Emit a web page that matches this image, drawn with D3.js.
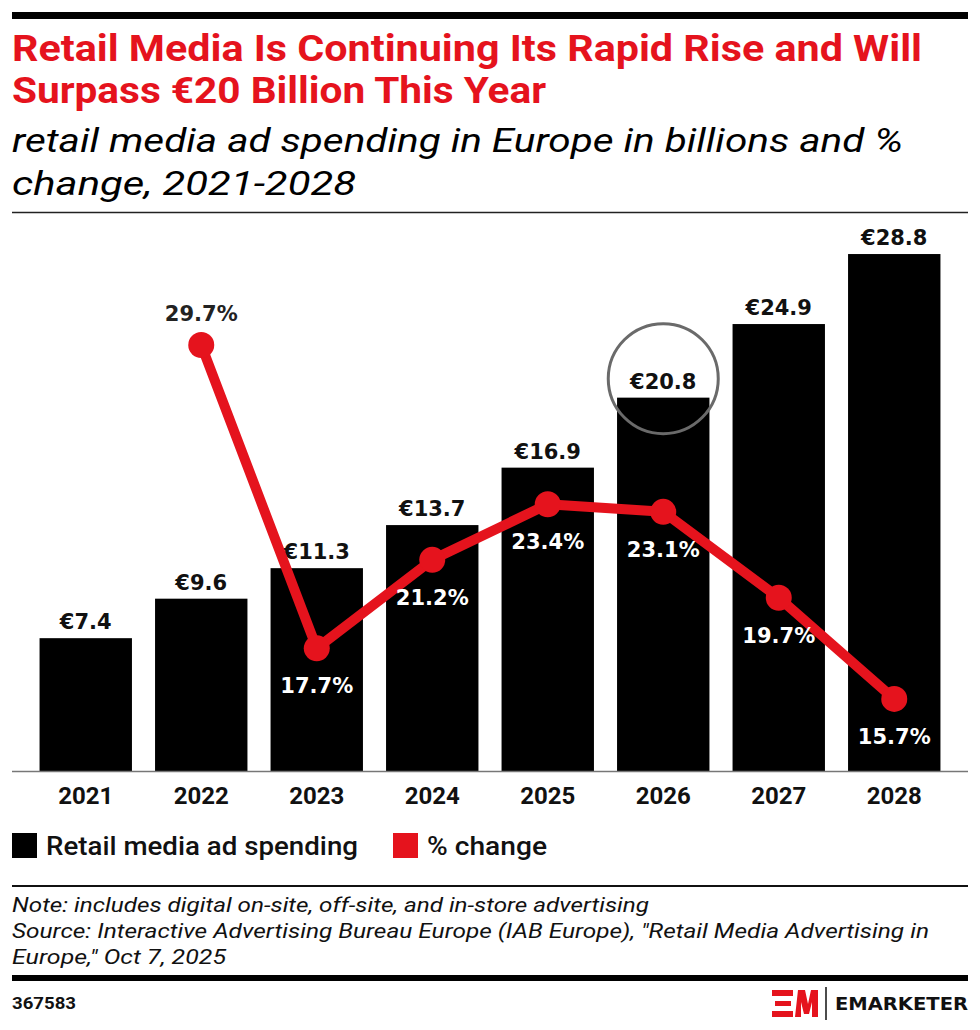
<!DOCTYPE html>
<html>
<head>
<meta charset="utf-8">
<script src="https://cdn.jsdelivr.net/npm/d3@7"></script>
<style>
  html, body { margin: 0; padding: 0; background: #fff; }
  svg { display: block; }
</style>
</head>
<body>
<div id="chart"></div>
<script>
const years = ['2021', '2022', '2023', '2024', '2025', '2026', '2027', '2028'];
const spending = [7.4, 9.6, 11.3, 13.7, 16.9, 20.8, 24.9, 28.8];
const changeYears = ['2022', '2023', '2024', '2025', '2026', '2027', '2028'];
const change = [29.7, 17.7, 21.2, 23.4, 23.1, 19.7, 15.7];
const highlightYear = '2026';

const titleLines = ['Retail Media Is Continuing Its Rapid Rise and Will', 'Surpass €20 Billion This Year'];
const subtitleLines = ['retail media ad spending in Europe in billions and %', 'change, 2021-2028'];
const noteLines = [
  'Note: includes digital on-site, off-site, and in-store advertising',
  'Source: Interactive Advertising Bureau Europe (IAB Europe), "Retail Media Advertising in',
  'Europe," Oct 7, 2025'
];
const chartId = '367583';

const RED = '#e5131d';
const width = 980;
const height = 1030;
const condensed = 'Roboto, "Liberation Sans", sans-serif';
const labelFont = '"DejaVu Sans", sans-serif';

const svg = d3.select('#chart').append('svg')
  .attr('width', width)
  .attr('height', height);

// squeeze a text element to a target width (the original uses a condensed face)
function fit (sel, w) {
  const len = sel.node().getComputedTextLength();
  if (Math.abs(len - w) > 2) {
    sel.attr('textLength', w).attr('lengthAdjust', 'spacingAndGlyphs');
  }
  return sel;
}

// header
svg.append('rect').attr('x', 12).attr('y', 12).attr('width', 956).attr('height', 7).attr('fill', '#000');

const titleWidths = [910, 534];
titleLines.forEach((t, i) => {
  const el = svg.append('text')
    .attr('x', 12).attr('y', 61 + i * 42)
    .attr('font-family', condensed).attr('font-weight', 700)
    .attr('font-size', 36).attr('fill', RED)
    .text(t);
  fit(el, titleWidths[i]);
});

const subWidths = [891, 344];
subtitleLines.forEach((t, i) => {
  const el = svg.append('text')
    .attr('x', 12).attr('y', 152 + i * 43)
    .attr('font-family', condensed).attr('font-style', 'italic').attr('font-weight', 400)
    .attr('font-size', 33).attr('fill', '#000')
    .text(t);
  fit(el, subWidths[i]);
});

svg.append('line').attr('x1', 12).attr('x2', 968).attr('y1', 212.5).attr('y2', 212.5)
  .attr('stroke', '#222').attr('stroke-width', 1.5);

// scales
const x = d3.scaleBand().domain(years).range([28, 952]).paddingInner(0.2).paddingOuter(0.1);
const yBar = d3.scaleLinear().domain([0, 30]).range([771, 232.5]);
const yPct = d3.scaleLinear().domain([10, 35]).range([843, 211]);

const plot = svg.append('g').attr('class', 'plot');

// bars
const bars = plot.selectAll('g.bar')
  .data(years.map((y, i) => ({ year: y, value: spending[i] })))
  .enter().append('g')
  .attr('class', 'bar');

bars.append('rect')
  .attr('x', d => x(d.year))
  .attr('y', d => yBar(d.value))
  .attr('width', x.bandwidth())
  .attr('height', d => yBar(0) - yBar(d.value))
  .attr('fill', '#000');

bars.append('text')
  .attr('x', d => x(d.year) + x.bandwidth() / 2)
  .attr('y', d => yBar(d.value) - 9)
  .attr('text-anchor', 'middle')
  .attr('font-family', labelFont).attr('font-weight', 700).attr('font-size', 21)
  .attr('fill', '#111')
  .text(d => `€${d.value.toFixed(1)}`);

// highlight ring
const hi = spending[years.indexOf(highlightYear)];
plot.append('circle')
  .attr('cx', x(highlightYear) + x.bandwidth() / 2)
  .attr('cy', yBar(hi) - 19)
  .attr('r', 55)
  .attr('fill', 'none')
  .attr('stroke', '#6a6a6a')
  .attr('stroke-width', 3);

// baseline + x axis
plot.append('line').attr('x1', 12).attr('x2', 968).attr('y1', 771.5).attr('y2', 771.5)
  .attr('stroke', '#777').attr('stroke-width', 1.5);

const xAxis = plot.append('g')
  .attr('class', 'x axis')
  .attr('transform', 'translate(0, 771)')
  .call(d3.axisBottom(x).tickSize(0));
xAxis.select('.domain').remove();
xAxis.selectAll('text')
  .attr('y', 33).attr('dy', 0)
  .attr('font-family', condensed).attr('font-weight', 700).attr('font-size', 24)
  .attr('fill', '#111')
  .each(function () { fit(d3.select(this), 55); });

// % change line
const pts = changeYears.map((y, i) => ({ year: y, value: change[i] }));
const cx = d => x(d.year) + x.bandwidth() / 2;

plot.append('path')
  .datum(pts)
  .attr('d', d3.line().x(cx).y(d => yPct(d.value)))
  .attr('fill', 'none')
  .attr('stroke', RED)
  .attr('stroke-width', 10)
  .attr('stroke-linejoin', 'round');

plot.selectAll('circle.dot')
  .data(pts)
  .enter().append('circle')
  .attr('class', 'dot')
  .attr('cx', cx)
  .attr('cy', d => yPct(d.value))
  .attr('r', 13)
  .attr('fill', RED);

plot.selectAll('text.pct')
  .data(pts)
  .enter().append('text')
  .attr('class', 'pct')
  .attr('x', cx)
  .attr('y', (d, i) => i === 0 ? yPct(d.value) - 24 : yPct(d.value) + 45)
  .attr('text-anchor', 'middle')
  .attr('font-family', labelFont).attr('font-weight', 700).attr('font-size', 21)
  .attr('fill', (d, i) => i === 0 ? '#222' : '#fff')
  .text(d => `${d.value.toFixed(1)}%`);

// legend
const legend = svg.append('g').attr('class', 'legend');
const legendItems = [
  { label: 'Retail media ad spending', color: '#000', x: 12, w: 312 },
  { label: '% change', color: RED, x: 393, w: 120 }
];
legendItems.forEach(it => {
  legend.append('rect').attr('x', it.x).attr('y', 833).attr('width', 25).attr('height', 25).attr('fill', it.color);
  const el = legend.append('text')
    .attr('x', it.x + 34).attr('y', 855)
    .attr('font-family', condensed).attr('font-weight', 500).attr('font-size', 26)
    .attr('fill', '#111')
    .text(it.label);
  fit(el, it.w);
});

// notes
svg.append('line').attr('x1', 12).attr('x2', 968).attr('y1', 886).attr('y2', 886)
  .attr('stroke', '#111').attr('stroke-width', 2);

const noteWidths = [637, 917, 214];
noteLines.forEach((t, i) => {
  const el = svg.append('text')
    .attr('x', 12).attr('y', 912 + i * 26)
    .attr('font-family', condensed).attr('font-style', 'italic').attr('font-weight', 400)
    .attr('font-size', 21).attr('fill', '#111')
    .text(t);
  fit(el, noteWidths[i]);
});

svg.append('rect').attr('x', 12).attr('y', 975).attr('width', 956).attr('height', 6).attr('fill', '#000');

const idText = svg.append('text')
  .attr('x', 12).attr('y', 1009)
  .attr('font-family', condensed).attr('font-weight', 700).attr('font-size', 17)
  .attr('fill', '#111')
  .text(chartId);
fit(idText, 64);

// logo
const logo = svg.append('g').attr('transform', 'translate(772, 990)');
logo.append('rect').attr('x', 0).attr('y', 0).attr('width', 21).attr('height', 6).attr('fill', RED);
logo.append('rect').attr('x', 3).attr('y', 11).attr('width', 16).attr('height', 5).attr('fill', RED);
logo.append('rect').attr('x', 0).attr('y', 21).attr('width', 21).attr('height', 6).attr('fill', RED);
logo.append('path')
  .attr('d', 'M23,27 L26,0 L33,0 L36,14 L39,0 L46,0 L46,27 L40,27 L40,12 L37,24 L32,24 L29,12 L29,27 Z')
  .attr('fill', RED);
svg.append('line').attr('x1', 826).attr('x2', 826).attr('y1', 987).attr('y2', 1020)
  .attr('stroke', '#111').attr('stroke-width', 1.5);
const brand = svg.append('text')
  .attr('x', 835).attr('y', 1010)
  .attr('font-family', '"DejaVu Sans", sans-serif').attr('font-weight', 700).attr('font-size', 17)
  .attr('fill', '#111')
  .text('EMARKETER');
fit(brand, 133);
</script>
</body>
</html>
